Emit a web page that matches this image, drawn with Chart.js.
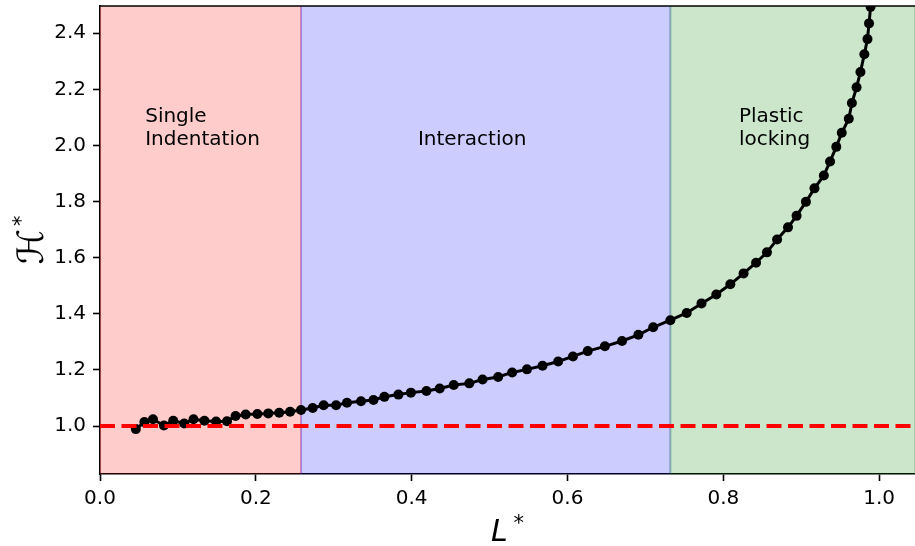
<!DOCTYPE html>
<html>
<head>
<meta charset="utf-8">
<script src="https://cdn.jsdelivr.net/npm/chart.js@4.4.1/dist/chart.umd.min.js"></script>
<style>
  html, body { margin: 0; padding: 0; background: #fff; overflow: hidden; }
  canvas { display: block; }
</style>
</head>
<body>
<canvas id="hardnessChart" width="915" height="546"></canvas>
<script>
// ======== Data ========
const lStar = [
  0.046, 0.057, 0.068, 0.082, 0.094, 0.108, 0.120, 0.134, 0.149, 0.163,
  0.174, 0.187, 0.202, 0.216, 0.230, 0.244, 0.258, 0.273, 0.287, 0.303,
  0.317, 0.335, 0.351, 0.365, 0.383, 0.399, 0.419, 0.436, 0.454, 0.474,
  0.491, 0.511, 0.529, 0.548, 0.568, 0.588, 0.607, 0.626, 0.648, 0.670,
  0.691, 0.710, 0.732, 0.753, 0.772, 0.791, 0.809, 0.826, 0.842, 0.856,
  0.869, 0.883, 0.894, 0.906, 0.917, 0.929, 0.937, 0.945, 0.952, 0.961,
  0.965, 0.971, 0.976, 0.981, 0.985, 0.987, 0.989
];
const hStar = [
  0.989, 1.014, 1.024, 1.002, 1.019, 1.009, 1.024, 1.019, 1.016, 1.017,
  1.036, 1.041, 1.043, 1.045, 1.047, 1.051, 1.057, 1.064, 1.074, 1.074,
  1.083, 1.088, 1.093, 1.104, 1.112, 1.119, 1.125, 1.134, 1.146, 1.152,
  1.166, 1.175, 1.191, 1.202, 1.215, 1.230, 1.248, 1.267, 1.284, 1.303,
  1.325, 1.352, 1.377, 1.403, 1.437, 1.469, 1.505, 1.544, 1.582, 1.619,
  1.665, 1.708, 1.749, 1.799, 1.847, 1.893, 1.943, 1.995, 2.045, 2.095,
  2.151, 2.207, 2.262, 2.325, 2.379, 2.435, 2.494
];
const refLevel = 1.0;

// regime boundaries (L*) and labels
const regionStarts = [0.0, 0.258, 0.732];
const regionEnds = [0.258, 0.732, 1.046];
const regionColors = ["rgba(255, 0, 0, 0.2)", "rgba(0, 0, 255, 0.2)", "rgba(0, 128, 0, 0.2)"];
const regionLabels = [["Single", "Indentation"], ["Interaction"], ["Plastic", "locking"]];
const labelX = [0.058, 0.408, 0.82];
const labelY = 2.0;

const xTicks = [0.0, 0.2, 0.4, 0.6, 0.8, 1.0];
const yTicks = [1.0, 1.2, 1.4, 1.6, 1.8, 2.0, 2.2, 2.4];
const xRange = [0.0, 1.046];
const yRange = [0.829, 2.497];

const FONT = "'DejaVu Sans', 'Liberation Sans', sans-serif";

// ======== Plugin: regions, text, spines, axis titles ========
const decor = {
  id: "decor",
  beforeDraw(chart) {
    const { ctx } = chart;
    ctx.save();
    ctx.fillStyle = "#fff";
    ctx.fillRect(0, 0, chart.width, chart.height);
    ctx.restore();
  },
  beforeDatasetsDraw(chart) {
    const { ctx, chartArea: a, scales: { x, y } } = chart;
    ctx.save();
    ctx.beginPath();
    ctx.rect(a.left, a.top, a.right - a.left, a.bottom - a.top);
    ctx.clip();
    regionStarts.forEach((s, i) => {
      const x0 = x.getPixelForValue(s);
      const x1 = x.getPixelForValue(regionEnds[i]);
      ctx.fillStyle = regionColors[i];
      ctx.fillRect(x0, a.top - 2, x1 - x0, a.bottom - a.top + 4);
      ctx.strokeStyle = regionColors[i];
      ctx.lineWidth = 2;
      ctx.strokeRect(x0, a.top - 2, x1 - x0, a.bottom - a.top + 4);
    });
    // regime labels
    ctx.fillStyle = "#000";
    ctx.font = "20px " + FONT;
    ctx.textAlign = "left";
    ctx.textBaseline = "alphabetic";
    regionLabels.forEach((lines, i) => {
      const px = x.getPixelForValue(labelX[i]);
      const py = y.getPixelForValue(labelY);
      lines.forEach((t, k) => {
        ctx.fillText(t, px, py - (lines.length - 1 - k) * 23);
      });
    });
    ctx.restore();
  },
  afterDraw(chart) {
    const { ctx, chartArea: a } = chart;
    ctx.save();
    // top spine
    ctx.strokeStyle = "#000";
    ctx.lineWidth = 1.6;
    ctx.beginPath();
    ctx.moveTo(a.left, a.top);
    ctx.lineTo(a.right, a.top);
    ctx.stroke();

    ctx.fillStyle = "#000";
    ctx.textBaseline = "alphabetic";
    ctx.textAlign = "left";

    // x title: L*
    ctx.font = "italic 30px " + FONT;
    const lw = ctx.measureText("L").width;
    ctx.font = "21px " + FONT;
    const sw = ctx.measureText("*").width;
    const total = lw + 6 + sw;
    const cx = (a.left + a.right) / 2 - total / 2;
    ctx.font = "italic 30px " + FONT;
    ctx.fillText("L", cx, 541);
    ctx.font = "21px " + FONT;
    ctx.fillText("*", cx + lw + 6, 530);

    // y title: H* (rotated)
    ctx.translate(43, (a.top + a.bottom) / 2);
    ctx.rotate(-Math.PI / 2);
    ctx.font = "36px " + FONT;
    const hw = ctx.measureText("\u210B").width;
    ctx.font = "21px " + FONT;
    const yTotal = hw + 3 + sw;
    ctx.font = "36px " + FONT;
    ctx.fillText("\u210B", -yTotal / 2, 0);
    ctx.font = "21px " + FONT;
    ctx.fillText("*", -yTotal / 2 + hw + 3, -15);
    ctx.restore();
  },
};

// ======== Chart ========
const ctx = document.getElementById("hardnessChart");
new Chart(ctx, {
  type: "line",
  data: {
    datasets: [
      {
        label: "reference",
        data: [{ x: xRange[0], y: refLevel }, { x: xRange[1], y: refLevel }],
        borderColor: "#ff0000",
        borderWidth: 4,
        borderDash: [15, 6.5],
        pointRadius: 0,
        order: 0,
        clip: 0,
      },
      {
        label: "H*",
        data: lStar.map((v, i) => ({ x: v, y: hStar[i] })),
        borderColor: "#000",
        borderWidth: 3,
        pointRadius: 5,
        pointBackgroundColor: "#000",
        pointBorderWidth: 0,
        tension: 0,
        order: 1,
        clip: 0,
      },
    ],
  },
  options: {
    responsive: false,
    animation: false,
    devicePixelRatio: 1,
    layout: { autoPadding: false, padding: { top: 6, left: 0, right: 0, bottom: 0 } },
    plugins: { legend: { display: false }, tooltip: { enabled: false } },
    scales: {
      x: {
        type: "linear",
        min: xRange[0],
        max: xRange[1],
        afterFit: (s) => { s.height = 72; s.paddingLeft = 0; s.paddingRight = 0; },
        afterBuildTicks: (s) => { s.ticks = xTicks.map((v) => ({ value: v })); },
        grid: { display: true, drawOnChartArea: false, drawTicks: true, tickLength: 7, tickWidth: 1.6, tickColor: "#000" },
        border: { display: true, color: "#000", width: 1.6 },
        ticks: {
          color: "#000",
          font: { family: FONT, size: 20 },
          padding: 6,
          maxRotation: 0,
          callback: (v) => Number(v).toFixed(1),
        },
      },
      y: {
        type: "linear",
        min: yRange[0],
        max: yRange[1],
        afterFit: (s) => { s.width = 100; s.paddingTop = 0; s.paddingBottom = 0; },
        afterBuildTicks: (s) => { s.ticks = yTicks.map((v) => ({ value: v })); },
        grid: { display: true, drawOnChartArea: false, drawTicks: true, tickLength: 7, tickWidth: 1.6, tickColor: "#000" },
        border: { display: true, color: "#000", width: 1.6 },
        ticks: {
          color: "#000",
          font: { family: FONT, size: 20 },
          padding: 7,
          callback: (v) => Number(v).toFixed(1),
        },
      },
    },
  },
  plugins: [decor],
});
</script>
</body>
</html>
